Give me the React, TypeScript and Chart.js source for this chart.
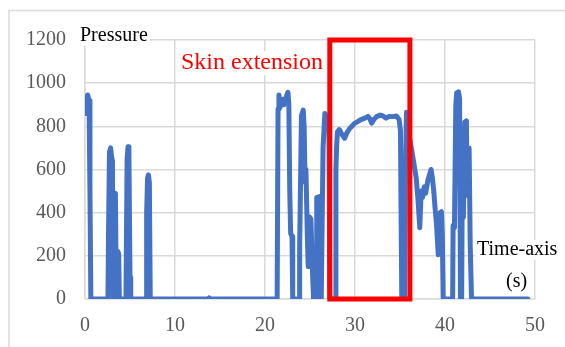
import React, { useEffect, useRef } from "react";
import { Chart, registerables } from "chart.js";

Chart.register(...registerables);

// Time (s) and pressure readings
const times: number[] = [
  0, 0.1, 0.3, 0.45, 0.55, 0.65,
  2.55, 2.62, 2.72, 2.85, 2.95, 3.05, 3.12, 3.2, 3.28, 3.38, 3.48, 3.58, 3.66, 3.74, 3.82,
  4.55, 4.68, 4.78, 4.88, 5.0, 5.08,
  6.8, 6.85, 6.95, 7.05, 7.15, 7.25,
  13.7, 13.8, 13.9,
  21.35, 21.45, 21.55, 21.65, 21.8, 21.95, 22.1, 22.3, 22.55, 22.65, 22.75, 22.85, 23.0, 23.08,
  23.8, 23.85, 24.05, 24.25, 24.35, 24.45, 24.55, 24.7, 24.8, 24.95, 25.1, 25.3, 25.4,
  25.7, 25.75, 26.05, 26.15, 26.25, 26.45, 26.65, 26.85, 27.1, 27.2,
  27.8, 27.88, 27.95, 28.05, 28.25, 28.45, 28.6, 28.85, 29.1, 29.4, 29.65, 30.0, 30.3, 30.6,
  31.1, 31.45, 31.65, 31.85, 32.1, 32.4, 32.8, 33.1, 33.45, 33.8, 34.2, 34.6, 34.9, 35.05,
  35.12, 35.2, 35.5, 35.6, 35.72, 36.0,
  36.3, 36.5, 36.8, 37.0, 37.2, 37.35, 37.5, 37.7, 37.85, 38.1, 38.45, 38.6, 38.75, 38.9,
  39.05, 39.25, 39.45, 39.6, 39.7, 39.8,
  40.85, 40.9, 41.05, 41.2, 41.3, 41.5, 41.62, 41.72, 41.85, 41.9, 42.05, 42.2, 42.38,
  42.45, 42.55, 42.68, 42.8, 42.95, 49.2,
];

const pressures: number[] = [
  860, 930, 945, 920, 500, 0,
  0, 330, 680, 700, 660, 640, 0, 0, 480, 490, 0, 0, 220, 210, 0,
  0, 650, 705, 660, 100, 0,
  0, 400, 560, 575, 540, 0,
  0, 5, 0,
  0, 880, 945, 885, 910, 925, 900, 930, 958, 900, 500, 305, 290, 0,
  0, 235, 850, 875, 800, 540, 600, 300, 150, 380, 370, 100, 0,
  0, 470, 475, 0, 0, 700, 860, 845, 820, 0,
  0, 600, 700, 775, 785, 770, 760, 745, 770, 790, 800, 815, 822, 830,
  838, 846, 835, 815, 832, 845, 852, 848, 838, 846, 845, 848, 832, 780,
  400, 0, 0, 600, 865, 760,
  690, 640, 560, 460, 330, 500, 470, 520, 490, 550, 600, 560, 500, 420,
  350, 205, 400, 405, 300, 0,
  0, 340, 330, 900, 955, 960, 930, 0, 0, 370, 380, 820, 825,
  480, 700, 700, 250, 0, 0,
];

const xTicks: number[] = [0, 10, 20, 30, 40, 50];
const yTicks: number[] = [0, 200, 400, 600, 800, 1000, 1200];

const boxStart = 27.2;
const boxEnd = 36.1;

const SERIF = "'Liberation Serif', 'Times New Roman', serif";

export default function App() {
  const canvasRef = useRef<HTMLCanvasElement | null>(null);

  useEffect(() => {
    const canvas = canvasRef.current;
    if (!canvas) return;

    const overlay = {
      id: "overlay",
      beforeDraw(chart: any) {
        const ctx = chart.ctx;
        ctx.save();
        ctx.fillStyle = "#ffffff";
        ctx.fillRect(0, 0, chart.width, chart.height);
        ctx.strokeStyle = "#dcdcdc";
        ctx.lineWidth = 1.5;
        ctx.beginPath();
        ctx.moveTo(9, 347);
        ctx.lineTo(9, 10.5);
        ctx.lineTo(565, 10.5);
        ctx.stroke();
        ctx.restore();
      },
      afterDraw(chart: any) {
        const ctx = chart.ctx;
        const xs = chart.scales.x;
        const ys = chart.scales.y;
        ctx.save();
        // red box
        const l = xs.getPixelForValue(boxStart);
        const r = xs.getPixelForValue(boxEnd);
        const t = ys.getPixelForValue(1200);
        const b = ys.getPixelForValue(0);
        ctx.strokeStyle = "#ff0000";
        ctx.lineWidth = 5;
        ctx.strokeRect(l, t, r - l, b - t);

        const label = (text: string, x: number, y: number, size: number, color: string, bg: boolean) => {
          ctx.font = `${size}px ${SERIF}`;
          ctx.textBaseline = "middle";
          ctx.textAlign = "left";
          const w = ctx.measureText(text).width;
          if (bg) {
            ctx.fillStyle = "#ffffff";
            ctx.fillRect(x - 2, y - size * 0.5, w + 4, size);
          }
          ctx.fillStyle = color;
          ctx.fillText(text, x, y);
        };
        label("Pressure", 80, 36, 20, "#000000", true);
        label("Skin extension", 181, 63, 24, "#ff0000", true);
        label("Time-axis", 477, 250, 20, "#000000", true);
        label("(s)", 506, 282, 20, "#000000", false);
        ctx.restore();
      },
    };

    const chart = new Chart(canvas, {
      type: "line",
      data: {
        datasets: [
          {
            data: times.map((t, i) => ({ x: t, y: pressures[i] })),
            borderColor: "#4472c4",
            borderWidth: 5,
            pointRadius: 0,
            tension: 0,
            fill: false,
            borderJoinStyle: "round",
            borderCapStyle: "round",
          },
        ],
      },
      options: {
        animation: false,
        responsive: false,
        events: [],
        layout: { padding: { left: 0, top: 40, right: 30, bottom: 0 } },
        plugins: {
          legend: { display: false },
          tooltip: { enabled: false },
        },
        scales: {
          x: {
            type: "linear",
            min: 0,
            max: 50,
            afterFit: (s: any) => {
              s.height = 48;
            },
            afterBuildTicks: (s: any) => {
              s.ticks = xTicks.map((v) => ({ value: v }));
            },
            grid: { color: "#d9d9d9", lineWidth: 1.5, drawTicks: false },
            border: { color: "#d9d9d9", width: 1.5 },
            ticks: {
              padding: 15,
              color: "#595959",
              font: { family: SERIF, size: 20 },
              maxRotation: 0,
              callback: (v: any) => String(v),
            },
          },
          y: {
            min: 0,
            max: 1200,
            afterFit: (s: any) => {
              s.width = 85;
            },
            afterBuildTicks: (s: any) => {
              s.ticks = yTicks.map((v) => ({ value: v }));
            },
            grid: { color: "#d9d9d9", lineWidth: 1.5, drawTicks: false },
            border: { color: "#d9d9d9", width: 1.5 },
            ticks: {
              padding: 19,
              color: "#595959",
              font: { family: SERIF, size: 20 },
              callback: (v: any) => String(v),
            },
          },
        },
      },
      plugins: [overlay],
    } as any);

    return () => chart.destroy();
  }, []);

  return (
    <canvas
      ref={canvasRef}
      width={565}
      height={347}
      style={{ position: "absolute", left: 0, top: 0, width: 565, height: 347 }}
    />
  );
}
